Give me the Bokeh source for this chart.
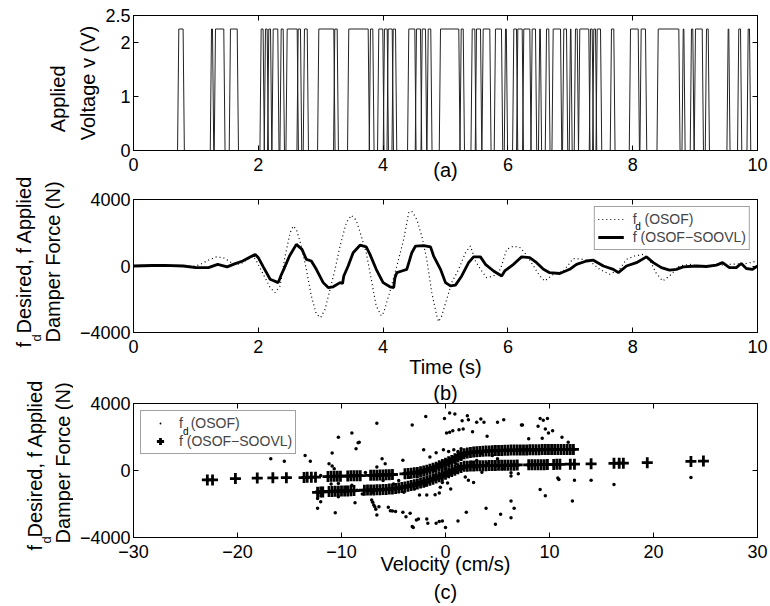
import numpy as np
from math import pi
from bokeh.plotting import figure
from bokeh.models import Range1d, FixedTicker, LinearAxis, Label, Legend, LegendItem, Title
from bokeh.layouts import column, row
from bokeh.embed import file_html
from bokeh.resources import INLINE

FONT = "Liberation Sans"

# ---------------- (a) applied voltage: pulses at the 2.25 V level (s) ----------------
v_level = 2.25
pulse_on = [0.726, 1.250, 1.314, 1.554, 2.046, 2.115, 2.168, 2.239, 2.367, 2.463, 2.639, 2.740,
            2.970, 3.226, 3.450, 3.798, 3.931, 4.022, 4.082, 4.162, 4.412, 4.535, 4.627, 4.723,
            4.920, 5.252, 5.428, 5.497, 5.604, 5.801, 5.962, 6.095, 6.159, 6.255, 6.389, 6.510,
            6.619, 6.726, 6.896, 7.003, 7.083, 7.152, 7.324, 7.377, 7.431, 7.660, 7.965, 8.136,
            8.409, 8.810, 8.942, 9.006, 9.183, 9.530, 9.700, 9.851]
pulse_off = [0.795, 1.266, 1.447, 1.662, 2.077, 2.142, 2.196, 2.312, 2.399, 2.623, 2.676, 2.784,
             3.210, 3.264, 3.761, 3.835, 3.995, 4.066, 4.146, 4.199, 4.508, 4.599, 4.679, 4.764,
             5.213, 5.284, 5.470, 5.561, 5.710, 5.897, 5.975, 6.138, 6.229, 6.351, 6.442, 6.520,
             6.655, 6.843, 6.939, 7.010, 7.111, 7.296, 7.351, 7.404, 7.484, 7.697, 8.088, 8.205,
             8.739, 8.820, 8.963, 9.114, 9.210, 9.540, 9.728, 9.872]

# ---------------- (b) force histories ----------------
fa_t = [0.0, 0.3, 0.5, 0.8, 1.0, 1.2, 1.35, 1.5, 1.6, 1.75, 1.9, 1.95, 2.0, 2.08, 2.19, 2.32,
        2.36, 2.42, 2.5, 2.61, 2.7, 2.77, 2.85, 2.93, 3.04, 3.12, 3.2, 3.31, 3.35, 3.37, 3.44,
        3.52, 3.63, 3.73, 3.79, 3.89, 4.0, 4.11, 4.17, 4.19, 4.22, 4.3, 4.38, 4.46, 4.52, 4.65,
        4.76, 4.81, 4.92, 5.0, 5.08, 5.16, 5.26, 5.37, 5.45, 5.56, 5.64, 5.77, 5.9, 5.95, 6.09,
        6.22, 6.35, 6.46, 6.57, 6.67, 6.83, 6.99, 7.1, 7.26, 7.37, 7.53, 7.69, 7.77, 7.9, 8.06,
        8.22, 8.33, 8.46, 8.59, 8.7, 8.81, 9.02, 9.18, 9.34, 9.44, 9.55, 9.66, 9.74, 9.82, 9.92, 10.0]
fa_f = [0, 30, 40, 0, -100, -100, 100, -50, 100, 300, 600, 700, 500, -50, -800, -1000,
        -600, -100, 600, 1300, 1000, 400, 300, -200, -1000, -1300, -1250, -1000, -1050, -600, 0,
        800, 1250, 1150, 700, -200, -1000, -1250, -1300, -700, -400, -300, -200, 800, 1200, 1230,
        1150, 600, -200, -1000, -1200, -1150, -600, 200, 550, 550, 100, -300, -600, -300, 100,
        550, 500, 200, -200, -400, -450, -200, 100, 300, 350, 0, -200, -400, 0, 200,
        550, 200, -100, -250, -200, -50, 0, -30, 50, 200, -100, -100, 150, -150, -200, 0]
fd_t = [0.0, 0.5, 1.0, 1.07, 1.2, 1.33, 1.44, 1.57, 1.7, 1.92, 1.97, 2.08, 2.19, 2.27, 2.35,
        2.43, 2.51, 2.56, 2.61, 2.69, 2.77, 2.85, 2.93, 3.0, 3.07, 3.15, 3.23, 3.31, 3.41, 3.49,
        3.57, 3.65, 3.73, 3.81, 3.89, 3.97, 4.01, 4.12, 4.22, 4.33, 4.41, 4.46, 4.54, 4.62, 4.7,
        4.78, 4.86, 4.89, 4.94, 5.02, 5.1, 5.21, 5.32, 5.4, 5.48, 5.56, 5.66, 5.77, 5.88, 5.98,
        6.09, 6.2, 6.3, 6.41, 6.51, 6.59, 6.73, 6.89, 7.05, 7.21, 7.31, 7.47, 7.63, 7.79, 7.9,
        8.03, 8.17, 8.27, 8.37, 8.48, 8.59, 8.75, 8.91, 9.07, 9.28, 9.55, 9.82, 10.0]
fd_f = [0, 0, 0, 100, 350, 550, 500, 200, 100, 600, 300, -500, -1300, -1600, -1200,
        600, 2000, 2400, 2200, 1200, -200, -1800, -2900, -3100, -2600, -1400, -200, 1200, 2600, 3050,
        2750, 1800, 800, -800, -2400, -3000, -2800, -1400, 0, 1600, 3200, 3300, 2800, 1800, 400,
        -1600, -3000, -3350, -3000, -2000, -1000, -200, 800, 1200, 300, -200, -700, -600, -200, 1000,
        1200, 1100, 650, 0, -600, -900, -500, -300, 450, 400, 300, -200, -500, -200, 400,
        600, 700, 400, -400, -900, -600, 0, 100, 0, 0, 100, 150, 300]

# ---------------- (c) force vs velocity ----------------
# desired force f_d (dots)
dot_vel = [-16.8, -15.5, -13.5, -13.0, -11.2, -10.9, -10.3, -10.7, -9.0, -8.4, -8.6, -8.3, -6.6, -6.1,
           -5.8, -7.7, -6.6, -10.9, -12.3, -12.3, -12.0, -10.6, -8.7, -7.1, -6.9, -6.7, -6.6, -6.4,
           -5.1, -10.3, -9.0, -8.5, -10.3, -7.0, -6.8, -5.3, -4.1, -3.8, -3.4, -3.1, -2.8, -2.6,
           -1.8, -1.7, -0.9, -0.6, -0.3, 0.0, 1.2, 2.0, -5.5, -4.8, -3.2,
           -3.2, -1.9, -0.1, 0.4, 0.9, 1.6, 2.1, 2.2, 3.0, 3.4, 3.7, 5.0, 5.6, 7.4, 0.1, 0.4, 0.7,
           1.3, 1.7, 2.6, 4.0,
           -2.1, -0.9, -0.2, 0.3, 0.8, 1.2, -4.1, -1.5, 1.9, 2.2, 2.7, 6.3, 6.3, -2.5, -1.8, -1.0,
           -0.6, -0.3, 0.2,
           3.9, 4.8, 5.3, 6.3, 6.3, 6.6,
           7.3, 8.9, 9.1, 9.4, 9.8, 9.6, 9.9, 10.3, 8.0, 9.3, 11.2, 11.8, 10.8, 12.4, 14.0, 16.2,
           23.6, 9.1, 9.6, 12.2, 10.9,
           -4.5, -3.5, -2.5, -2.0, -1.5, -1.0, -0.5, 0.0, 0.5, 1.0, 1.5, 2.0, 2.5, 3.0, 3.5, 4.0,
           -4.0, -3.0, -2.0, -1.0, 0.0, 1.0, 2.0, 3.0, 4.5, 5.0, -6.0, -5.0, -7.0, -8.0, -9.5,
           -11.0, -12.0, 3.5, 1.5, -0.5, 0.5, 5.5, 7.0, 8.0]
dot_frc = [705, 545, 900, 545, 410, 1040, 1985, 110, 2245, 1650, 1300, 1690, 2815, 705,
           410, -125, 210, 265, -1665, -2260, -1870, -2520, -1925, -1765, -2060, -2320, -2655, -2160,
           -2420, -780, -880, -1175, -1570, -1900, -2160, -2400, -2495, -2755, -2555, -3410, -2950, -2890,
           -2890, -3145, -3145, -3050, -3010, -3410, -3010, -2495, -2200, -2450, -3350,
           2720, 3230, 3110, 3430, 3370, 2975, 3270, 3035, 2875, 3075, 2875, 2875, 3035, 2720, 2245, 2280, 2380,
           2440, 2480, 2320, 2045,
           1240, 1060, 1240, 1140, 1240, 1140, 605, 800, -385, -580, -715, -325, -130, -1470, -1470, -1450,
           -1350, -715, -750,
           -2260, -3205, -2615, -2815, -1825, -2260,
           2720, 2635, 3110, 3000, 3110, 2480, 2245, 2380, 1890, 1925, 1985, 1690, -445, -580, -580, -835,
           -420, -1130, -1510, -1825, -540,
           -600, -400, -200, -900, -500, 0, 300, 600, -200, 400, 700, 900, 500, 200, -100, 400,
           -1300, -1100, -600, -300, 100, -100, 200, 600, 900, 700, -600, -800, -1300, -1400, -1000,
           -800, -300, 1000, 1300, -1000, -1100, 100, -200, 300]

# applied force f (pluses), by band
plus_vel_far = [-22.9, -22.4, -20.2, -18.1, -16.6, -15.3]
plus_frc_far = [-560, -560, -480, -450, -440, -430]
plus_vel_ul = [-13.6, -13.3, -12.9, -12.5, -11.3, -11.0, -10.7, -10.4, -10.1, -9.4, -9.1, -8.8, -8.5,
               -8.2, -7.2, -6.9, -6.6, -6.3, -6.0, -5.7, -5.4, -5.1, -3.9, -3.6, -3.3, -3.0]
plus_frc_ul = [-420, -410, -400, -400, -360, -350, -350, -340, -340, -330, -320, -320, -310,
               -310, -290, -290, -280, -270, -270, -260, -250, -240, -200, -180, -160, -140]
plus_vel_ll = [-12.3, -12.0, -11.8, -11.2, -10.9, -10.6, -10.3, -10.0, -9.7, -9.4, -9.1, -8.8,
               -7.8, -7.5, -7.2, -6.9, -6.6, -6.3, -6.0, -5.7, -5.4, -5.1, -4.8]
plus_frc_ll = [-1300, -1280, -1280, -1250, -1250, -1240, -1240, -1230, -1220, -1220, -1210, -1200,
               -1180, -1170, -1170, -1160, -1150, -1150, -1140, -1130, -1110, -1100, -1080]
plus_vel_a = [-4.5, -4.2, -3.9, -3.6, -3.3, -3.0, -2.7, -2.4, -2.1, -1.8, -1.5, -1.2, -0.9, -0.6,
              -0.3, 0.0, 0.3, 0.6, 0.9, 1.2, 1.5]
plus_frc_a = [-1050, -1020, -980, -940, -900, -850, -800, -750, -700, -640, -580, -520, -450, -380,
              -300, -220, -140, -60, 20, 100, 180]
plus_vel_b = [-2.7, -2.4, -2.1, -1.8, -1.5, -1.2, -0.9, -0.6, -0.3, 0.0, 0.3, 0.6, 0.9, 1.2, 1.5, 1.8]
plus_frc_b = [-120, -80, -30, 20, 80, 140, 200, 280, 360, 440, 520, 600, 700, 800, 900, 1000]
plus_vel_ur = [2.1, 2.4, 2.7, 3.0, 3.3, 3.6, 3.9, 4.2, 4.5, 4.8, 5.1, 5.4, 5.7, 6.0, 6.3, 6.6, 6.9,
               7.2, 7.5, 7.8, 8.1, 8.4, 8.7, 9.0, 9.3, 9.6, 9.9, 10.2, 10.5, 10.8, 11.1, 11.4, 11.7,
               12.0, 12.3]
plus_frc_ur = [1050, 1080, 1100, 1120, 1140, 1150, 1160, 1170, 1180, 1190, 1200, 1200, 1210, 1210,
               1220, 1220, 1220, 1230, 1230, 1230, 1240, 1240, 1240, 1240, 1250, 1250, 1250, 1250,
               1250, 1250, 1260, 1260, 1260, 1260, 1260]
plus_vel_mr = [1.8, 2.1, 2.4, 2.7, 3.0, 3.3, 3.6, 3.9, 4.2, 4.5, 4.8, 5.1, 5.4, 5.7, 6.0, 6.3, 6.6,
               6.9, 8.0, 8.3, 8.6, 8.9, 9.2, 9.5, 9.8, 10.4, 10.7, 11.0, 12.0, 12.4, 14.0, 16.2, 16.7,
               17.1, 19.4, 23.6, 24.8]
plus_frc_mr = [250, 260, 270, 270, 280, 280, 290, 290, 300, 300, 300, 310, 310, 310, 320, 320, 320,
               330, 340, 340, 350, 350, 350, 350, 360, 360, 370, 370, 380, 380, 400, 430, 440,
               440, 470, 540, 560]

# ---------------- build voltage path from pulse edges ----------------
ramp = 0.02
vt, vv = [0.0], [0.0]
for on, off in zip(pulse_on, pulse_off):
    vt += [on - ramp, on, off, off + ramp]
    vv += [0.0, v_level, v_level, 0.0]
vt.append(10.0)
vv.append(0.0)

plus_vel = (plus_vel_far + plus_vel_ul + plus_vel_ll + plus_vel_a + plus_vel_b
            + plus_vel_ur + plus_vel_mr)
plus_frc = (plus_frc_far + plus_frc_ul + plus_frc_ll + plus_frc_a + plus_frc_b
            + plus_frc_ur + plus_frc_mr)

LAB_W = 73            # width of the left strip that carries the vertical axis titles
W = 770 - LAB_W
TICK_FS = "18px"
LAB_FS = "20px"


def make_fig(h, top, bottom, xr, yr, xticks, yticks, xover=None, yover=None):
    p = figure(width=W, height=h, x_range=Range1d(*xr), y_range=Range1d(*yr),
               output_backend="svg", toolbar_location=None,
               min_border_left=133 - LAB_W, min_border_right=W - (133 - LAB_W) - 624,
               min_border_top=top, min_border_bottom=bottom)
    p.xgrid.visible = False
    p.ygrid.visible = False
    p.outline_line_color = "black"
    p.background_fill_color = "white"
    p.border_fill_color = "white"
    xax, yax = p.below[0], p.left[0]
    for ax, ticks, over, so in ((xax, xticks, xover, 7), (yax, yticks, yover, 3)):
        ax.ticker = FixedTicker(ticks=ticks)
        ax.major_tick_in = 5
        ax.major_tick_out = 0
        ax.minor_tick_in = 0
        ax.minor_tick_out = 0
        ax.axis_line_color = "black"
        ax.major_tick_line_color = "black"
        ax.major_label_text_font = FONT
        ax.major_label_text_font_size = TICK_FS
        ax.major_label_text_color = "black"
        ax.major_label_standoff = so
        ax.axis_label_text_font = FONT
        ax.axis_label_text_font_size = LAB_FS
        ax.axis_label_text_font_style = "normal"
        ax.axis_label_text_color = "black"
        if over:
            ax.major_label_overrides = over
    for ticks, side in ((xticks, "above"), (yticks, "right")):
        ax = LinearAxis(ticker=FixedTicker(ticks=ticks), major_tick_in=5, major_tick_out=0,
                        minor_tick_in=0, minor_tick_out=0, axis_line_color="black",
                        major_tick_line_color="black", major_label_standoff=0,
                        major_label_text_font_size="1px",
                        major_label_overrides={t: "" for t in ticks})
        p.add_layout(ax, side)
    return p, xax, yax


def data_label(p, text, x, y, size):
    p.add_layout(Label(x=x, y=y, text=text, text_align="left", text_baseline="middle",
                       text_font=FONT, text_font_size=size, text_color="black"))


# ---------------- left strip with the vertical titles (page pixel coordinates) ----------------
lab = figure(width=LAB_W, height=606, x_range=Range1d(0, LAB_W), y_range=Range1d(606, 0),
             output_backend="svg", toolbar_location=None, min_border=0,
             x_axis_type=None, y_axis_type=None)
lab.outline_line_color = None
lab.xgrid.visible = False
lab.ygrid.visible = False


def vtext(text, x, y, size=LAB_FS):
    lab.add_layout(Label(x=x, y=y, text=text, angle=pi / 2, text_align="left",
                         text_baseline="middle", text_font=FONT, text_font_size=size,
                         text_color="black"))


vtext("Applied", 57, 131.7)
# panel (b)
vtext("f", 23, 347)
vtext("d", 35.5, 341, "13px")
vtext("Desired, f Applied", 23, 333)
vtext("Damper Force (N)", 52, 342)
# panel (c)
vtext("f", 34, 550)
vtext("d", 46, 543, "13px")
vtext("Desired, f Applied", 34, 537)
vtext("Damper Force (N)", 62, 543)

# ---------------- panel (a) ----------------
p1, x1, y1 = make_fig(188, 15, 38, (0, 10), (0, 2.5), [0, 2, 4, 6, 8, 10], [0, 1, 2, 2.5])
p1.line(vt, vv, line_color="#222222", line_width=1)
y1.axis_label = "Voltage v (V)"
y1.axis_label_standoff = 3
x1.axis_label = "(a)"
x1.axis_label_standoff = -15

# ---------------- panel (b) ----------------
p2, x2, y2 = make_fig(192, 11, 46, (0, 10), (-4000, 4000), [0, 2, 4, 6, 8, 10], [-4000, 0, 4000],
                      yover={-4000: "\u22124000"})
r_fd = p2.line(fd_t, fd_f, line_color="black", line_width=1.2, line_dash="1 3")
r_fa = p2.line(fa_t, fa_f, line_color="black", line_width=2.8)
leg2 = Legend(items=[LegendItem(label="f  (OSOF)", renderers=[r_fd]),
                     LegendItem(label="f (OSOF\u2212SOOVL)", renderers=[r_fa])],
              location="top_right", margin=7, padding=3, spacing=0, label_height=18,
              glyph_width=26, glyph_height=18, label_standoff=9,
              label_text_font=FONT, label_text_font_size="14px", border_line_color="#444444",
              background_fill_alpha=0.0)
p2.add_layout(leg2)
data_label(p2, "d", 8.04, 2350, "10px")
x2.axis_label = "Time (s)"
x2.axis_label_standoff = 0

# ---------------- panel (c) ----------------
p3, x3, y3 = make_fig(226, 23, 68, (-30, 30), (-4000, 4000), [-30, -20, -10, 0, 10, 20, 30],
                      [-4000, 0, 4000],
                      xover={-30: "\u221230", -20: "\u221220", -10: "\u221210"},
                      yover={-4000: "\u22124000"})
# caption of panel (b) sits in the top margin of panel (c)
p3.add_layout(Title(text="(b)", align="center", vertical_align="middle", standoff=-3,
                    text_font=FONT, text_font_size=LAB_FS, text_font_style="normal",
                    text_color="black"), "above")
r_dot = p3.scatter(dot_vel, dot_frc, marker="dot", size=14, color="black")
r_plus = p3.scatter(plus_vel, plus_frc, marker="cross", size=11, line_width=2.8, color="black")
leg3 = Legend(items=[LegendItem(label="f  (OSOF)", renderers=[r_dot]),
                     LegendItem(label="f (OSOF\u2212SOOVL)", renderers=[r_plus])],
              location="top_left", margin=7, padding=3, spacing=0, label_height=18,
              glyph_width=32, glyph_height=18, label_standoff=3,
              label_text_font=FONT, label_text_font_size="14px", border_line_color="#444444",
              background_fill_alpha=0.0)
p3.add_layout(leg3)
data_label(p3, "d", -25.25, 2330, "10px")
x3.axis_label = "Velocity (cm/s)\n(c)"
x3.axis_label_standoff = -8
x3.axis_label_text_line_height = 1.3

layout = row(lab, column(p1, p2, p3, spacing=0), spacing=0)
open("out.html", "w").write(file_html(layout, INLINE))
